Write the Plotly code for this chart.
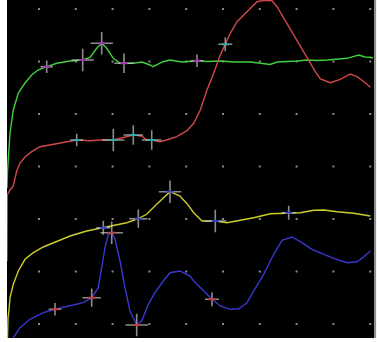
import numpy as np
import plotly.graph_objects as go

# sample index (time) and amplitude for each trace
green_t = [0, 0.5, 3, 6.3, 11.3, 18, 24.7, 31, 39.7, 49.7, 63, 75.7, 83, 89.7, 94.7, 99.7, 106.3, 113,
           126, 135, 143, 146, 156, 163, 175, 183, 190, 200, 213, 228, 243, 252, 263, 270, 280, 290,
           300, 310, 320, 330, 340, 351.7, 358, 363, 366]
green_v = [150, 167, 205, 228, 245, 255, 263, 268, 271.3, 274.7, 277, 278, 280.7, 289.7, 294.7, 289.7,
           279.7, 274.7, 274.7, 276, 273, 271.3, 276.3, 278, 276, 276.3, 277.3, 276.5, 277, 276, 276,
           275, 273.5, 276, 276.3, 277, 278, 277.5, 278, 279, 279.7, 283, 281, 280.7, 280]

red_t = [0, 0.3, 3, 6.3, 9.7, 13, 18, 24.7, 33, 43, 53, 69.7, 83, 93, 106.3, 116.3, 126.3, 134.7, 139.7,
         144.7, 153, 159.7, 169.7, 180, 186.7, 193.3, 200, 206.7, 213.3, 218.3, 223.3, 230, 240, 250,
         256.7, 265, 270, 276.7, 283.3, 290, 296.7, 303.3, 308.3, 313.3, 323.3, 333.3, 343.3, 350,
         358.3, 363.3]
red_v = [77, 143, 148, 152, 167, 175, 181, 186.3, 191.3, 193, 195.3, 198, 197.3, 198, 198, 200.7, 203,
         202, 198, 198, 196.3, 198, 201.3, 207.3, 214.7, 228, 248, 264.7, 283, 293.7, 304.7, 316.3,
         326.3, 336.3, 337.7, 337.3, 331.3, 319.7, 309.7, 298, 286.3, 274.7, 266.3, 259, 255.3, 258.7,
         264, 261.3, 255.3, 250.7]

yellow_t = [0.5, 1, 2, 3, 6.3, 11.3, 18, 26.3, 36.3, 49.7, 63, 79.7, 93, 96.3, 109.7, 119.7, 131.3,
            139.7, 149.7, 158, 163, 173, 180, 186.7, 195, 208.3, 220, 233.3, 246.7, 263.3, 281.7,
            293.3, 306.7, 316.7, 330, 346.7, 363.3]
yellow_v = [0, 20, 28, 40.3, 53.7, 67, 78.7, 85.3, 91, 96.3, 102, 107, 109.7, 110.3, 113.7, 115.3,
            119.3, 123.7, 133.7, 142, 146.3, 142, 134.3, 125.3, 117, 117, 115.3, 117.7, 120.3, 124.3,
            125.3, 125.3, 127.7, 128, 126.3, 124.7, 122]

blue_t = [6.3, 13, 23, 36.3, 48, 63, 76.3, 84.7, 91.3, 94.7, 98, 101.3, 104.7, 108, 113, 118, 123,
          129.7, 134.7, 141.3, 148, 156.3, 163, 173, 183, 186.7, 195, 205, 213.3, 223.3, 231.7, 240,
          246.7, 256.7, 266.7, 275, 285, 293.3, 305, 316.7, 326.7, 340, 350, 356.7, 363.3]
blue_v = [0.3, 10.3, 18.7, 25.3, 28.7, 32, 35.3, 40.3, 50.3, 70.3, 90.3, 103.7, 105.3, 98.7, 77, 50.3,
          27, 13, 17, 33.7, 45.3, 57, 65.3, 67, 62, 57, 48.7, 38.7, 32, 28.7, 29.3, 35.3, 47, 63.7,
          83.7, 97.7, 101, 96.3, 88.7, 83.7, 79.7, 75.3, 76.3, 81, 87]

# cursor marks: time positions and cross sizes
green_cur_t = [39.7, 75.7, 94.7, 117, 190]
green_cur_s = [9, 16, 16, 14, 9]
red_cur_t = [69.7, 106.3, 126.3, 144.7, 218.3]
red_cur_s = [9, 16, 14, 14, 10]
yellow_cur_t = [96.3, 131.3, 163, 208.3, 281.7]
yellow_cur_s = [10, 13, 16, 16, 10]
blue_cur_t = [48, 84.7, 104.7, 129.7, 205]
blue_cur_s = [9, 13, 16, 16, 10]

grid_t = [32 + 36.8 * k for k in range(10)]
grid_v = [329 - 52.5 * j for j in range(7)]

fig = go.Figure()

gx, gy = np.meshgrid(grid_t, grid_v)
fig.add_trace(go.Scatter(x=gx.ravel(), y=gy.ravel(), mode="markers",
                         marker=dict(symbol="square", size=2, color="#8a8a8a"),
                         hoverinfo="skip", showlegend=False))

series = [
    (green_t, green_v, "#3fcf3f", green_cur_t, green_cur_s, "#a030b0"),
    (red_t, red_v, "#d04848", red_cur_t, red_cur_s, "#30a8a8"),
    (yellow_t, yellow_v, "#cccc28", yellow_cur_t, yellow_cur_s, "#3040c0"),
    (blue_t, blue_v, "#3838d0", blue_cur_t, blue_cur_s, "#c03838"),
]

for t, v, col, ct, cs, ccol in series:
    fig.add_trace(go.Scatter(x=t, y=v, mode="lines", line=dict(color=col, width=1.4),
                             showlegend=False))

for t, v, col, ct, cs, ccol in series:
    cy = np.interp(ct, t, v)
    fig.add_trace(go.Scatter(x=ct, y=cy, mode="markers",
                             marker=dict(symbol="cross-thin", size=cs,
                                         line=dict(color="#c8c8c8", width=1.6)),
                             showlegend=False))
    fig.add_trace(go.Scatter(x=ct, y=cy, mode="markers",
                             marker=dict(symbol="line-ew", size=5,
                                         line=dict(color=ccol, width=2)),
                             showlegend=False))

fig.add_shape(type="line", xref="paper", yref="paper", x0=1.003, x1=1.003, y0=0, y1=1,
              line=dict(color="#8c8c8c", width=2))

fig.update_xaxes(range=[0, 367], showgrid=False, zeroline=False, showticklabels=False, ticks="")
fig.update_yaxes(range=[0, 338], showgrid=False, zeroline=False, showticklabels=False, ticks="")
fig.update_layout(width=377, height=342, margin=dict(l=7, r=3, t=0, b=4),
                  paper_bgcolor="white", plot_bgcolor="black")

fig.write_html("out.html", config={"displayModeBar": False},
               post_script="document.body.style.margin='0px';")
